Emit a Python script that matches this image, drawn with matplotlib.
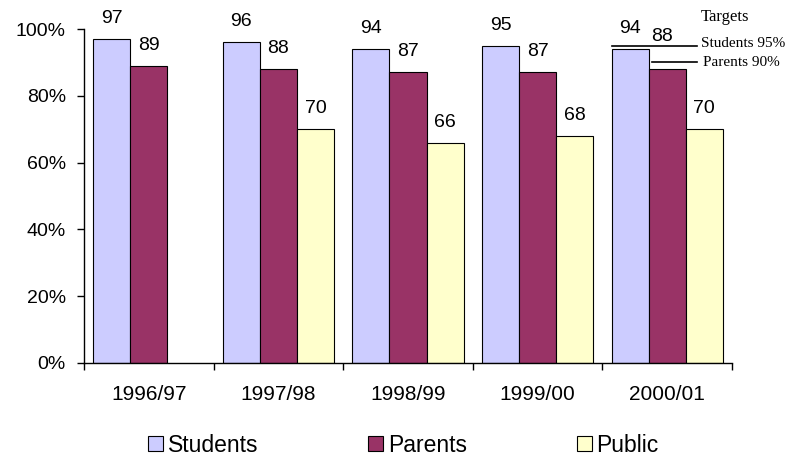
import matplotlib
matplotlib.use("Agg")
import matplotlib.pyplot as plt
import numpy as np
from matplotlib.patches import Patch

plt.rcParams['font.family'] = ['Liberation Sans', 'DejaVu Sans']

years = ["1996/97", "1997/98", "1998/99", "1999/00", "2000/01"]
students = [97, 96, 94, 95, 94]
parents = [89, 88, 87, 87, 88]
public = [None, 70, 66, 68, 70]
target_students = 95
target_parents = 90

series_names = ["Students", "Parents", "Public"]
colors = ["#CCCCFF", "#993366", "#FFFFCC"]

fig = plt.figure(figsize=(8.03, 4.57), dpi=100)
ax = fig.add_axes([0.1046, 0.2057, 0.807, 0.7308])

x = np.arange(len(years))
w = 0.286
# the 2000/01 parents label is nudged clear of the target line
label_nudge = {(1, 4): (-4, 8.5)}
for i, (vals, col) in enumerate(zip([students, parents, public], colors)):
    for j, (xi, v) in enumerate(zip(x, vals)):
        if v is None:
            continue
        xpos = xi + (i - 1) * w
        ax.bar(xpos, v, width=w, color=col, edgecolor="black", linewidth=0.8)
        dx, dy = label_nudge.get((i, j), (0, 0))
        ax.annotate(f"{v}", (xpos, v), xytext=(dx, 8.6 + dy), textcoords="offset points",
                    ha="center", va="bottom", fontsize=14)

# Target lines on the latest year
last = x[-1]
ax.plot([last - 0.424, last + 0.231], [target_students, target_students],
        color="black", linewidth=1.2, clip_on=False)
ax.plot([last - 0.116, last + 0.231], [target_parents, target_parents],
        color="black", linewidth=1.2, clip_on=False)
serif = ['Liberation Serif', 'DejaVu Serif']
ax.text(last + 0.255, 103.6, "Targets", family=serif, fontsize=12, va="center", ha="left")
ax.text(last + 0.262, target_students + 0.6, f"Students {target_students}%", family=serif,
        fontsize=11, va="center", ha="left")
ax.text(last + 0.278, target_parents + 0.1, f"Parents {target_parents}%", family=serif,
        fontsize=11, va="center", ha="left")

ax.set_xlim(-0.5, len(years) - 0.5)
ax.set_ylim(0, 100)
ax.set_yticks(np.arange(0, 101, 20))
ax.set_yticklabels([f"{t}%" for t in range(0, 101, 20)], fontsize=14)
ax.tick_params(axis="y", direction="out", length=5, width=1, pad=8)

ax.set_xticks(x)
ax.set_xticklabels(years, fontsize=15)
ax.set_xticks(np.arange(-0.5, len(years)), minor=True)
ax.tick_params(axis="x", which="major", length=0, pad=16)
ax.tick_params(axis="x", which="minor", direction="out", length=5, width=1)

for s in ["top", "right"]:
    ax.spines[s].set_visible(False)
for s in ["left", "bottom"]:
    ax.spines[s].set_linewidth(1)

handles = [Patch(facecolor=c, edgecolor="black", linewidth=0.8) for c in colors]
fig.legend(handles, series_names, loc="center", bbox_to_anchor=(0.5025, 0.026),
           ncol=3, frameon=False, fontsize=16.5, handlelength=0.65, handleheight=0.65,
           handletextpad=0.2, columnspacing=4.8, borderpad=0, borderaxespad=0)

fig.savefig("out.png", dpi=100)
